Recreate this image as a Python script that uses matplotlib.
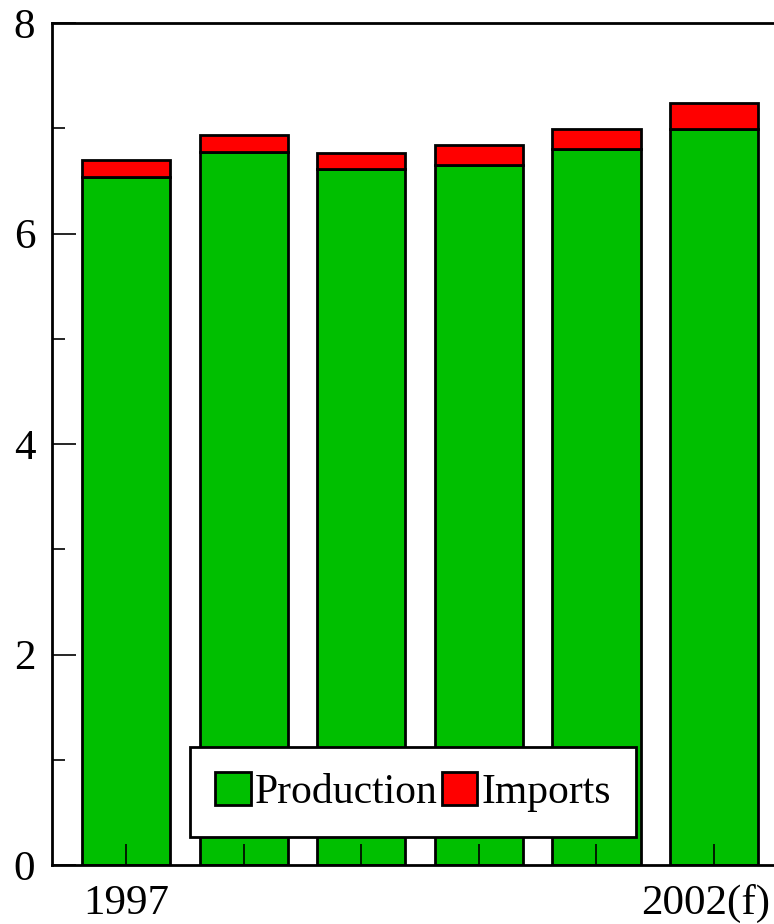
import numpy as np
import matplotlib
matplotlib.use("Agg")
import matplotlib.pyplot as plt
from matplotlib.ticker import MultipleLocator
from matplotlib.transforms import ScaledTranslation

years = ["1997", "1998", "1999", "2000", "2001", "2002(f)"]
production = [6.54, 6.78, 6.61, 6.65, 6.80, 6.99]
imports = [0.16, 0.16, 0.16, 0.19, 0.19, 0.25]
shown_labels = ["1997", "", "", "", "", "2002(f)"]

plt.rcParams['font.family'] = ['Liberation Serif', 'DejaVu Serif']

fig = plt.figure(figsize=(7.74, 9.24), dpi=100)
ax = fig.add_axes([0.0672, 0.0639, 0.9328, 0.911])

x = np.arange(len(years))
ax.bar(x, production, width=0.75, color='#00BF00', edgecolor='black', linewidth=2.0, label='Production')
ax.bar(x, imports, width=0.75, bottom=production, color='#FF0000', edgecolor='black', linewidth=2.0, label='Imports')

ax.set_xlim(-0.63, 5.51)
ax.set_ylim(0, 8)
ax.set_xticks(x)
ax.set_xticklabels(shown_labels)
ax.yaxis.set_major_locator(MultipleLocator(2))
ax.yaxis.set_minor_locator(MultipleLocator(1))

ax.tick_params(axis='both', which='both', direction='in', labelsize=31, width=1.2)
ax.tick_params(axis='y', which='major', length=17, pad=12)
ax.tick_params(axis='y', which='minor', length=9)
ax.tick_params(axis='x', which='major', length=15, pad=14)

# last label sits a bit left of its tick so it stays inside the figure
last = ax.get_xticklabels()[-1]
last.set_transform(last.get_transform() + ScaledTranslation(-0.08, 0, fig.dpi_scale_trans))

ax.spines['right'].set_visible(False)
for s in ['left', 'top', 'bottom']:
    ax.spines[s].set_linewidth(2.0)

leg = ax.legend(loc='center', bbox_to_anchor=(0.5, 0.087), ncol=2, fontsize=30,
                frameon=True, fancybox=False, edgecolor='black', framealpha=1,
                handlelength=0.85, handleheight=0.85, handletextpad=0.1,
                columnspacing=0.1, borderpad=0.6, borderaxespad=0)
leg.get_frame().set_linewidth(2.0)

fig.savefig("out.png", dpi=100)
